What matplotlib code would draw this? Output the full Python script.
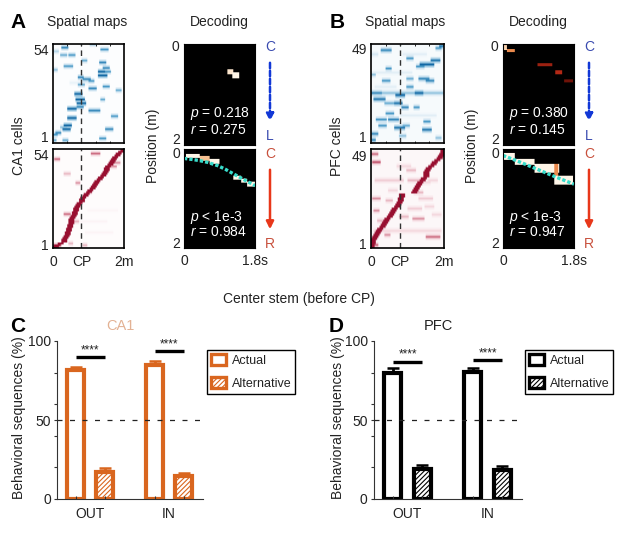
import numpy as np
import matplotlib
matplotlib.use('Agg')
import matplotlib.pyplot as plt
from matplotlib.colors import LinearSegmentedColormap
from matplotlib.patches import Patch, FancyArrowPatch

plt.rcParams['font.family'] = ['Liberation Sans', 'DejaVu Sans']
plt.rcParams['mathtext.fontset'] = 'custom'
plt.rcParams['mathtext.it'] = 'Liberation Sans:italic'
plt.rcParams['mathtext.rm'] = 'Liberation Sans'
plt.rcParams['hatch.linewidth'] = .8

W, H = 617, 545

# spatial maps: (position m, cell, strength, field width m)
ca1_left_fields = [
    (.34, 52, .8, .1), (.53, 48, .7, .08), (.3, 48, .6, .1), (.06, 50, .4, .1), (1.12, 54, .6, .1),
    (1.45, 51, .7, .12), (.89, 45, .6, .08), (1.4, 44, .8, .08), (.43, 42, .7, .15), (.06, 40, .5, .08),
    (1.49, 41, .8, .1), (1.36, 39, 1, .12), (1.54, 39, .7, .12), (1.4, 37, 1, .14), (.78, 36, .8, .1),
    (.94, 35, .8, .14), (1.08, 34, .7, .1), (.8, 32, .6, .1), (1.12, 30, .8, .14), (1.49, 31, .7, .12),
    (1.86, 29, .6, .08), (.73, 27, 1, .14), (.76, 24, 1, .16), (.8, 22, 1, .16), (1.4, 24, .6, .06),
    (.53, 19, 1, .2), (.76, 20, .8, .12), (1.17, 18, .8, .25), (.53, 14, 1, .16), (1.72, 15, .7, .1),
    (.43, 10, 1, .14), (.39, 8, 1, .14), (1.59, 8, .8, .14), (.06, 5, .7, .08), (.16, 6, .8, .08),
    (1.4, 3, .7, .12), (.34, 2, .6, .08), (.02, 2, .6, .08), (.3, 9, .5, .1), (.8, 33, .15, .6),
]
pfc_left_fields = [
    (.42, 46, .8, .2), (1.85, 47, .7, .1), (1.95, 48, .9, .08), (1.07, 42, .7, .1), (1.76, 41, .9, .16),
    (1.53, 39, 1, .3), (.47, 37, .7, .08), (1.35, 38, .7, .14), (.42, 31, .7, .14), (1.44, 32, .8, .2),
    (1.62, 31, .8, .12), (1.07, 32, .6, .12), (.05, 34, .5, .1), (1.07, 28, .7, .1), (.15, 25, .8, .2),
    (1, 25, .5, 1.9), (1.3, 25, 1, .14), (.79, 24, 1, .18), (.24, 22, .9, .25), (.75, 20, .9, .12),
    (.52, 20, .6, .2), (.93, 18, .8, .1), (1.25, 18, .7, .1), (.52, 15, .7, .16), (.29, 12, .7, .2),
    (.61, 12, .8, .2), (1.53, 11, .7, .12), (.33, 9, .7, .14), (.79, 8, .9, .2), (.97, 9, .6, .1),
    (1.53, 7, .9, .2), (.1, 5, .8, .12), (.05, 2, .8, .1), (1.85, 3, .5, .06), (.88, 4, .5, .1),
    (.05, 44, .3, .2), (1.2, 44, .2, .6), (.6, 35, .2, 1), (1.3, 14, .2, .9), (.4, 28, .2, .5),
]
ca1_right_peaks = [.08, .12, .2, .3, .33, .36, .38, .4, .42, .44, .45, .47, .49, .5, .52, .53, .55, .58,
                   .6, .62, .64, .66, .68, .72, .76, .8, .83, .85, .9, .96, 1.0, 1.05, 1.1, 1.14, 1.18, 1.2,
                   1.24, 1.3, 1.36, 1.42, 1.46, 1.48, 1.5, 1.52, 1.56, 1.6, 1.65, 1.68, 1.7, 1.76, 1.82,
                   1.86, 1.92, 1.97]
pfc_right_peaks = [.02, .03, .04, .05, .07, .1, .14, .18, .22, .26, .3, .34, .38, .42, .46, .5, .54, .58,
                   .62, .66, .7, .74, .78, .8, .83, .84, .86, 1.17, 1.2, 1.24, 1.28, 1.32, 1.36, 1.42,
                   1.46, 1.5, 1.52, 1.52, 1.54, 1.58, 1.64, 1.7, 1.76, 1.82, 1.87, 1.91, 1.95, 1.97, 1.99]
ca1_right_fields = [
    (.12, 49, .6, .08), (1.2, 52, .6, .2), (.4, 41, .4, .12), (.7, 36, .5, .06), (1.03, 31, .4, .06),
    (.4, 19, .6, .1), (.65, 15, .4, .1), (.1, 2, .7, .16), (.5, 3, .4, .06), (.9, 2, .4, .06),
    (1.8, 47, .5, .1), (1.3, 9, .08, .7), (1.1, 15, .08, .8), (1.4, 21, .07, .8), (1.7, 45, .5, .08),
]
pfc_right_fields = [
    (.1, 47, .6, .1), (.15, 43, .7, .12), (1.1, 39, .4, .2), (.5, 34, .35, .7), (1.2, 34, .4, .3),
    (1.7, 34, .3, .2), (1.45, 33, .3, .3), (.15, 25, .5, .12), (.5, 24, .4, .1), (1.5, 25, .35, .3),
    (1.3, 28, .4, .2), (1.2, 20, .35, .3), (.15, 19, .5, .1), (1.3, 15, .5, .25), (.9, 16, .4, .15),
    (1, 9, .3, 1.8), (.45, 7, .5, .08), (1.7, 6, .6, .3), (.1, 2, .6, .1), (.3, 14, .4, .2),
    (1.6, 21, .3, .2), (.9, 41, .3, .3), (1.8, 17, .3, .2), (.6, 29, .3, .2),
]

# decoding: (t0, t1, pos0, pos1, intensity)
ca1_left_dec = [(1.11, 1.25, .5, .61, .95), (1.23, 1.42, .57, .68, 1)]
pfc_left_dec = [(.02, .12, .02, .12, .9), (.12, .3, .11, .17, .7), (.89, 1.27, .39, .45, .4),
                (1.33, 1.5, .52, .6, .45), (1.57, 1.79, .7, .76, .3)]
ca1_right_dec = [(.06, .4, .1, .19, 1), (.4, .65, .15, .25, .85), (.65, .9, .2, .3, 1),
                 (1.27, 1.45, .55, .62, 1), (1.45, 1.6, .6, .68, 1), (1.6, 1.8, .66, .76, 1)]
pfc_right_dec = [(.04, .3, .08, .22, 1), (.3, .8, .2, .32, 1), (.8, 1.44, .3, .49, 1),
                 (1.3, 1.4, .3, .7, .7), (1.3, 1.78, .55, .72, 1)]
ca1_fit_t = [0, .2, .4, .6, .85, 1.05, 1.25, 1.5, 1.8]
ca1_fit_p = [.19, .21, .235, .27, .335, .41, .5, .61, .74]
pfc_fit_t = [0, .45, .9, 1.35, 1.8]
pfc_fit_p = [.13, .27, .42, .57, .71]

# bars
groups = ['OUT', 'IN']
ca1_actual = [81.6, 84.8]
ca1_alt = [17.3, 14.3]
ca1_actual_err = [2.2, 2.5]
ca1_alt_err = [2.1, 1.9]
pfc_actual = [80.0, 80.6]
pfc_alt = [19.2, 18.6]
pfc_actual_err = [2.7, 2.5]
pfc_alt_err = [2.1, 2.1]
ca1_sig_y = [90, 93.7]
pfc_sig_y = [87, 87.8]

blue_map = LinearSegmentedColormap.from_list('b', ['#ffffff', '#cfe4f1', '#4f9fcb', '#0f66a3'])
red_map = LinearSegmentedColormap.from_list('r', ['#ffffff', '#f3d3da', '#c25069', '#980f30'])
dec_map = LinearSegmentedColormap.from_list('d', ['#000000', '#5a0c04', '#c9301a', '#f3a05a', '#fff6e8'])


def px_axes(x0, y0, x1, y1):
    return fig.add_axes([x0 / W, 1 - y1 / H, (x1 - x0) / W, (y1 - y0) / H])


def px_text(x, y, s, **kw):
    kw.setdefault('ha', 'center')
    kw.setdefault('va', 'center')
    kw.setdefault('fontsize', 10)
    kw.setdefault('color', '#222222')
    fig.text(x / W, 1 - y / H, s, **kw)


def spatial_map(box, n, fields, cmap, base, peaks=None, bottom=False, top_row=None, low_row=None):
    ax = px_axes(*box)
    mat = np.full((n, 60), base)
    if peaks is not None:
        for i, p in enumerate(peaks):
            c = int(min(p / 2 * 60, 59))
            mat[i, max(c - 2, 0):c + 3] = 1
    for pos, row, s, w in fields:
        c0 = int(max((pos - w / 2 - .03) / 2 * 60, 0))
        c1 = int(min((pos + w / 2 + .03) / 2 * 60, 59)) + 1
        # fields bleed a little into the neighbouring rows
        for r, f in [(row - 1, 1), (row - 2, .45), (row, .45)]:
            if 0 <= r < n:
                mat[r, c0:c1] = np.maximum(mat[r, c0:c1], s * f)
    ax.imshow(mat, extent=[0, 2, .5, n + .5], origin='lower', aspect='auto', cmap=cmap,
              vmin=0, vmax=1, interpolation='bilinear')
    ax.axvline(.8, color='#333333', lw=1, ls=(0, (4, 3)))
    ax.set_yticks([top_row, low_row], [str(n), '1'], fontsize=10, color='#222222')
    ax.tick_params(axis='y', length=0, pad=3)
    ax.set_xticks([.4, .8, 1.2, 1.6])
    ax.tick_params(axis='x', direction='in', length=1.5, top=True, width=.6, labelbottom=False)
    for s in ax.spines.values():
        s.set_linewidth(1.2)
    if bottom:
        ax.set_xticks([0, .8, 2], ['0', 'CP', '2m'], fontsize=10, color='#222222')
        ax.tick_params(axis='x', labelbottom=True, length=0, pad=5)
    return ax


def decoding(box, cells, fit_t=None, fit_p=None):
    ax = px_axes(*box)
    mat = np.zeros((100, 72))
    for t0, t1, p0, p1, v in cells:
        mat[int(p0 * 50):int(p1 * 50), int(t0 * 40):int(t1 * 40)] = v
    ax.imshow(mat, extent=[0, 1.8, 2, 0], aspect='auto', cmap=dec_map, vmin=0, vmax=1, interpolation='bilinear')
    if fit_t is not None:
        ax.plot(fit_t, fit_p, color='#38dccb', lw=2.4, ls=(0, (1, .6)))
    ax.set_xticks([])
    ax.set_yticks([])
    for s in ax.spines.values():
        s.set_color('black')
    return ax


def bars(box, actual, alt, actual_err, alt_err, color, sig_y, legend_xy):
    ax = px_axes(*box)
    x_act = [1, 3.72]
    x_alt = [2, 4.72]
    ax.bar(x_act, actual, .58, facecolor='white', edgecolor=color, lw=3)
    ax.bar(x_alt, alt, .58, facecolor='white', edgecolor=color, lw=3, hatch='///////')
    ax.errorbar(x_act, actual, yerr=[[0, 0], actual_err], fmt='none', ecolor=color, elinewidth=2, capsize=4.6, capthick=1.8)
    ax.errorbar(x_alt, alt, yerr=[[0, 0], alt_err], fmt='none', ecolor=color, elinewidth=2, capsize=4.6, capthick=1.8)
    ax.plot([.36, 5.39], [50, 50], color='#222222', lw=.9, ls=(0, (4, 6)), zorder=5)
    for x0, y in zip(x_act, sig_y):
        ax.plot([x0, x0 + 1], [y, y], color='black', lw=2.4, solid_capstyle='butt')
        ax.text(x0 + .5, y + .4, '****', ha='center', va='bottom', fontsize=8.5, color='#222222')
    ax.set_xlim(.36, 5.39)
    ax.set_ylim(0, 100)
    ax.set_yticks([0, 20, 40, 50, 60, 80, 100], ['0', '', '', '50', '', '', '100'], fontsize=10, color='#222222')
    ax.tick_params(axis='y', length=2.5, width=.8, pad=2, color='#333333')
    ax.set_xticks(x_act + x_alt)
    ax.tick_params(axis='x', which='major', direction='in', length=2, width=.8, labelbottom=False, color='#333333')
    ax.set_xticks([1.5, 4.22], groups, minor=True, fontsize=10, color='#222222')
    ax.tick_params(axis='x', which='minor', length=0, pad=6)
    ax.spines[['top', 'right']].set_visible(False)
    for s in ['left', 'bottom']:
        ax.spines[s].set_color('#333333')
    handles = [Patch(facecolor='white', edgecolor=color, lw=2.4, label='Actual'),
               Patch(facecolor='white', edgecolor=color, lw=2.4, hatch='///////', label='Alternative')]
    leg = ax.legend(handles=handles, loc='upper left', bbox_to_anchor=(legend_xy[0] / W, 1 - legend_xy[1] / H),
                    bbox_transform=fig.transFigure, fancybox=False, framealpha=1, edgecolor='black',
                    fontsize=9, handlelength=1.2, handleheight=1.05, handletextpad=.5, borderpad=.3,
                    labelspacing=.8, borderaxespad=0, labelcolor='#222222')
    leg.get_frame().set_linewidth(1)
    return ax


fig = plt.figure(figsize=(W / 100, H / 100), dpi=100, facecolor='white')

# A and B, heat maps
spatial_map((53, 44, 124, 143), 54, ca1_left_fields, blue_map, .02, top_row=51.5, low_row=4)
spatial_map((53, 149, 124, 248), 54, ca1_right_fields, red_map, .02, peaks=ca1_right_peaks, bottom=True, top_row=51.5, low_row=2.5)
spatial_map((371, 44, 444, 143), 49, pfc_left_fields, blue_map, .06, top_row=47.5, low_row=3.5)
spatial_map((371, 149, 444, 248), 49, pfc_right_fields, red_map, .06, peaks=pfc_right_peaks, bottom=True, top_row=46.5, low_row=2.5)

# A and B, decoding
decoding((184, 44, 255, 145), ca1_left_dec)
decoding((184, 149, 255, 248), ca1_right_dec, ca1_fit_t, ca1_fit_p)
decoding((503, 44, 574, 145), pfc_left_dec)
decoding((503, 149, 574, 248), pfc_right_dec, pfc_fit_t, pfc_fit_p)

for dx, labels in [(0, ('0.218', '0.275', '0.984')), (319, ('0.380', '0.145', '0.947'))]:
    px_text(190 + dx, 114, r'$\mathit{p}$ = ' + labels[0], ha='left', color='white')
    px_text(190 + dx, 130, r'$\mathit{r}$ = ' + labels[1], ha='left', color='white')
    px_text(190 + dx, 217, r'$\mathit{p}$ < 1e-3', ha='left', color='white')
    px_text(190 + dx, 232, r'$\mathit{r}$ = ' + labels[2], ha='left', color='white')
    px_text(175 + dx, 47, '0')
    px_text(176 + dx, 139.5, '2')
    px_text(176 + dx, 154, '0')
    px_text(176 + dx, 244, '2')
    px_text(184 + dx, 261, '0')
    px_text(255 + dx, 261, '1.8s')
    px_text(270 + dx, 47, 'C', color='#3a4bb0')
    px_text(270 + dx, 136, 'L', color='#3a4bb0')
    px_text(270 + dx, 154, 'C', color='#c8503c')
    px_text(270 + dx, 244, 'R', color='#c8503c')
    px_text(153 + dx, 146, 'Position (m)', rotation=90)
    px_text(87 + dx - (1 if dx else 0), 22, 'Spatial maps')
    px_text(219 + dx, 22, 'Decoding')
    fig.add_artist(FancyArrowPatch(
        ((270 + dx) / W, 1 - 60 / H), ((270 + dx) / W, 1 - 124 / H), transform=fig.transFigure,
        arrowstyle='-|>', mutation_scale=11, color='#1238d6', lw=1.8, ls=(0, (2.2, 1))))
    fig.add_artist(FancyArrowPatch(
        ((270 + dx) / W, 1 - 167 / H), ((270 + dx) / W, 1 - 232 / H), transform=fig.transFigure,
        arrowstyle='-|>', mutation_scale=11, color='#e8371a', lw=1.8))

px_text(19, 146, 'CA1 cells', rotation=90)
px_text(337, 146, 'PFC cells', rotation=90)
px_text(18, 23, 'A', fontsize=15, fontweight='bold', color='black')
px_text(337, 23, 'B', fontsize=15, fontweight='bold', color='black')

# C and D
px_text(299, 299, 'Center stem (before CP)')
px_text(18, 327, 'C', fontsize=15, fontweight='bold', color='black')
px_text(336, 327, 'D', fontsize=15, fontweight='bold', color='black')
px_text(120, 326, 'CA1', color='#e3b294', fontsize=10.5)
px_text(438, 326, 'PFC', fontsize=10.5)
px_text(19, 418, 'Behavioral sequences (%)', rotation=90)
px_text(338, 418, 'Behavioral sequences (%)', rotation=90)

bars((57, 341, 203, 499), ca1_actual, ca1_alt, ca1_actual_err, ca1_alt_err, '#d9661f', ca1_sig_y, (207, 350))
bars((374, 341, 522, 499), pfc_actual, pfc_alt, pfc_actual_err, pfc_alt_err, 'black', pfc_sig_y, (525, 350))

fig.savefig('out.png', dpi=100)
